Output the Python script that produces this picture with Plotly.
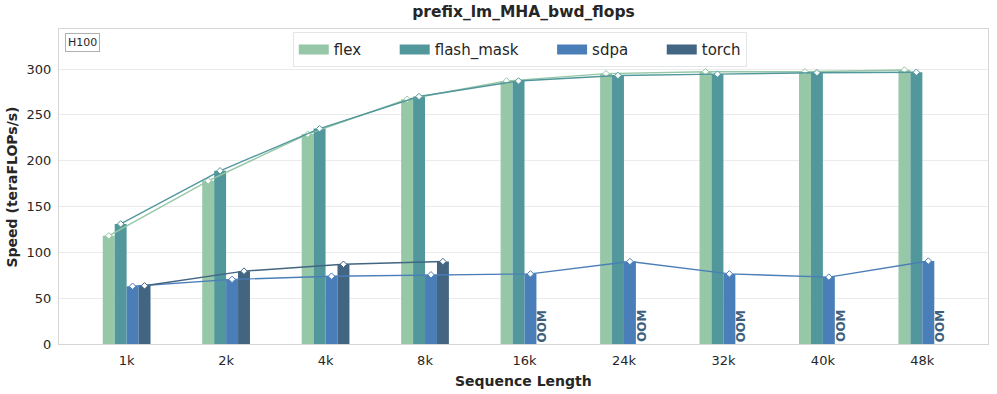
import plotly.graph_objects as go

categories = ["1k", "2k", "4k", "8k", "16k", "24k", "32k", "40k", "48k"]
flex = [118, 178, 229, 267, 287, 295, 297, 297, 299]
flash_mask = [131, 189, 235, 270, 287, 293, 294.5, 296, 296.5]
sdpa = [63, 70.5, 74, 75.5, 76.5, 90, 76.5, 73, 90.5]
torch = [63.5, 79.5, 87, 90, None, None, None, None, None]

series = [
    ("flex", flex, "#96c7a7"),
    ("flash_mask", flash_mask, "#52979c"),
    ("sdpa", sdpa, "#4a7eb8"),
    ("torch", torch, "#426582"),
]

BAR_W = 0.12
n = len(series)
idx = list(range(len(categories)))

fig = go.Figure()
for i, (name, vals, col) in enumerate(series):
    off = (i - (n - 1) / 2) * BAR_W
    xs = [k + off for k in idx]
    fig.add_trace(go.Bar(
        x=xs, y=vals, width=BAR_W, name=name, showlegend=False,
        marker=dict(color=col, line=dict(width=0)),
    ))
for i, (name, vals, col) in enumerate(series):
    off = (i - (n - 1) / 2) * BAR_W
    xs = [k + off for k in idx]
    fig.add_trace(go.Scatter(
        x=xs, y=vals, mode="lines+markers", showlegend=False,
        line=dict(color=col, width=1.4),
        marker=dict(symbol="diamond", size=5, color="white",
                    line=dict(color=col, width=1)),
        connectgaps=False,
    ))
# legend-only entries with wide patch look
for i, (name, vals, col) in enumerate(series):
    pad = "&nbsp;" * 6 if i < n - 1 else ""
    fig.add_trace(go.Scatter(
        x=[None], y=[None], mode="lines", name=name + pad,
        line=dict(color=col, width=11), showlegend=True,
    ))

# OOM annotations
for i, (name, vals, col) in enumerate(series):
    off = (i - (n - 1) / 2) * BAR_W
    for k, v in zip(idx, vals):
        if v is None:
            fig.add_annotation(
                x=k + off, y=0, xref="x", yref="y", text="<b>OOM</b>",
                textangle=-90, showarrow=False, xanchor="center", yanchor="bottom",
                font=dict(size=12, color="#3d5f7d", family="DejaVu Sans"),
            )

fig.add_annotation(
    x=0.006, y=0.988, xref="paper", yref="paper", text="H100", showarrow=False,
    xanchor="left", yanchor="top", font=dict(size=11, color="#262626"),
    bordercolor="#b0b0b0", borderwidth=1, borderpad=2, bgcolor="white",
)
# axis titles
fig.add_annotation(
    x=0.5, y=-0.1175, xref="paper", yref="paper", text="<b>Sequence Length</b>",
    showarrow=False, xanchor="center", yanchor="middle",
    font=dict(size=14, color="#262626"),
)
fig.add_annotation(
    x=-0.0506, y=0.5, xref="paper", yref="paper", text="<b>Speed (teraFLOPs/s)</b>",
    showarrow=False, xanchor="center", yanchor="middle", textangle=-90,
    font=dict(size=14, color="#262626"),
)

fig.update_layout(
    width=997, height=394,
    margin=dict(l=59, r=9, t=29, b=50),
    paper_bgcolor="white", plot_bgcolor="white",
    font=dict(family="DejaVu Sans", color="#262626", size=13),
    barmode="overlay",
    title=dict(text="<b>prefix_lm_MHA_bwd_flops</b>", x=0.5, xref="paper", xanchor="center",
               y=1 - 12 / 394, yanchor="middle", font=dict(size=15.5, color="#262626")),
    legend=dict(orientation="h", x=0.496, xanchor="center", y=0.99, yanchor="top",
                bgcolor="white", bordercolor="#e3e6e6", borderwidth=1,
                font=dict(size=15, color="#262626")),
    xaxis=dict(
        range=[-0.68, 8.66], tickmode="array", tickvals=idx, ticktext=categories,
        showgrid=False, zeroline=False, showline=True, linecolor="#d6d6d6", linewidth=1,
        mirror=True, ticks="", tickfont=dict(size=13), ticklabelstandoff=4,
        automargin=False,
    ),
    yaxis=dict(
        range=[0, 343.7], tickvals=[0, 50, 100, 150, 200, 250, 300],
        showgrid=True, gridcolor="#ebebeb", gridwidth=1, zeroline=False,
        showline=True, linecolor="#d6d6d6", linewidth=1, mirror=True, ticks="",
        tickfont=dict(size=13), ticklabelstandoff=4, automargin=False,
    ),
)

fig.write_html("out.html", config={"displayModeBar": False},
               post_script="document.body.style.margin='0';")
